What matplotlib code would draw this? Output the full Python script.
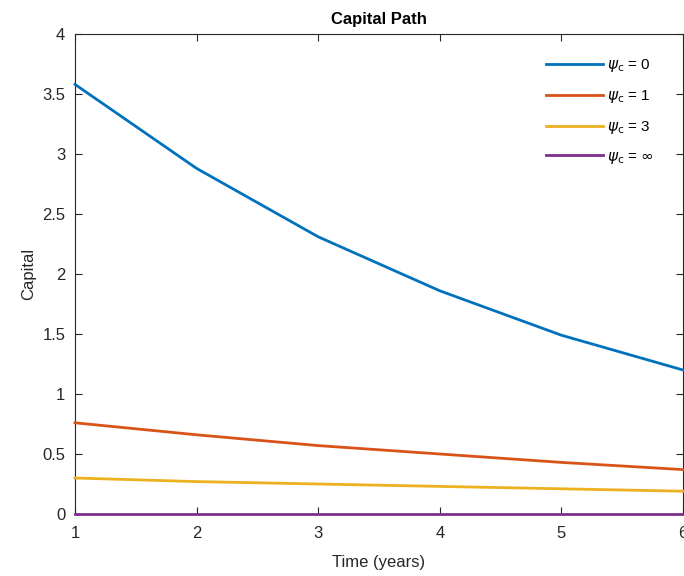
import matplotlib
matplotlib.use('Agg')
import matplotlib.pyplot as plt

plt.rcParams['font.family'] = ['Liberation Sans', 'DejaVu Sans']

years = [1, 2, 3, 4, 5, 6]
capital_psi0 = [3.58, 2.88, 2.31, 1.86, 1.49, 1.20]
capital_psi1 = [0.76, 0.66, 0.57, 0.50, 0.43, 0.37]
capital_psi3 = [0.30, 0.27, 0.25, 0.23, 0.21, 0.19]
capital_psiinf = [0, 0, 0, 0, 0, 0]

SERIES = [capital_psi0, capital_psi1, capital_psi3, capital_psiinf]
LABELS = [r'$\psi_{\rm c}$ = 0', r'$\psi_{\rm c}$ = 1',
          r'$\psi_{\rm c}$ = 3', r'$\psi_{\rm c}$ = $\infty$']
COLORS = ['#0072BD', '#D95319', '#EDB120', '#7E2F8E']

fig = plt.figure(figsize=(6.84, 5.76), dpi=100)
ax = fig.add_axes([75/684, 62/576, 608/684, 480/576])

for y, label, color in zip(SERIES, LABELS, COLORS):
    ax.plot(years, y, linewidth=2, color=color, label=label, clip_on=False, zorder=3)

ax.set_xlim(1, 6)
ax.set_ylim(0, 4)
ax.set_xticks(years)
ax.set_yticks([0, 0.5, 1, 1.5, 2, 2.5, 3, 3.5, 4])
ax.set_yticklabels(['0', '0.5', '1', '1.5', '2', '2.5', '3', '3.5', '4'])
ax.tick_params(direction='in', top=True, right=True, labelsize=12,
               colors='#262626', length=5, width=0.8)
ax.tick_params(axis='x', pad=9)
ax.tick_params(axis='y', pad=7)
for s in ax.spines.values():
    s.set_color('#262626')
    s.set_linewidth(0.8)

ax.set_title('Capital Path', fontsize=12, weight='bold', color='black', pad=7)
ax.set_xlabel('Time (years)', fontsize=12, color='#262626', labelpad=10)
ax.set_ylabel('Capital', fontsize=12, color='#262626', labelpad=4)

ax.legend(loc='upper right', frameon=False, fontsize=11, handlelength=3.7,
          handletextpad=0.3, labelspacing=0.9, bbox_to_anchor=(0.975, 0.98))

plt.savefig('out.png', dpi=100)
